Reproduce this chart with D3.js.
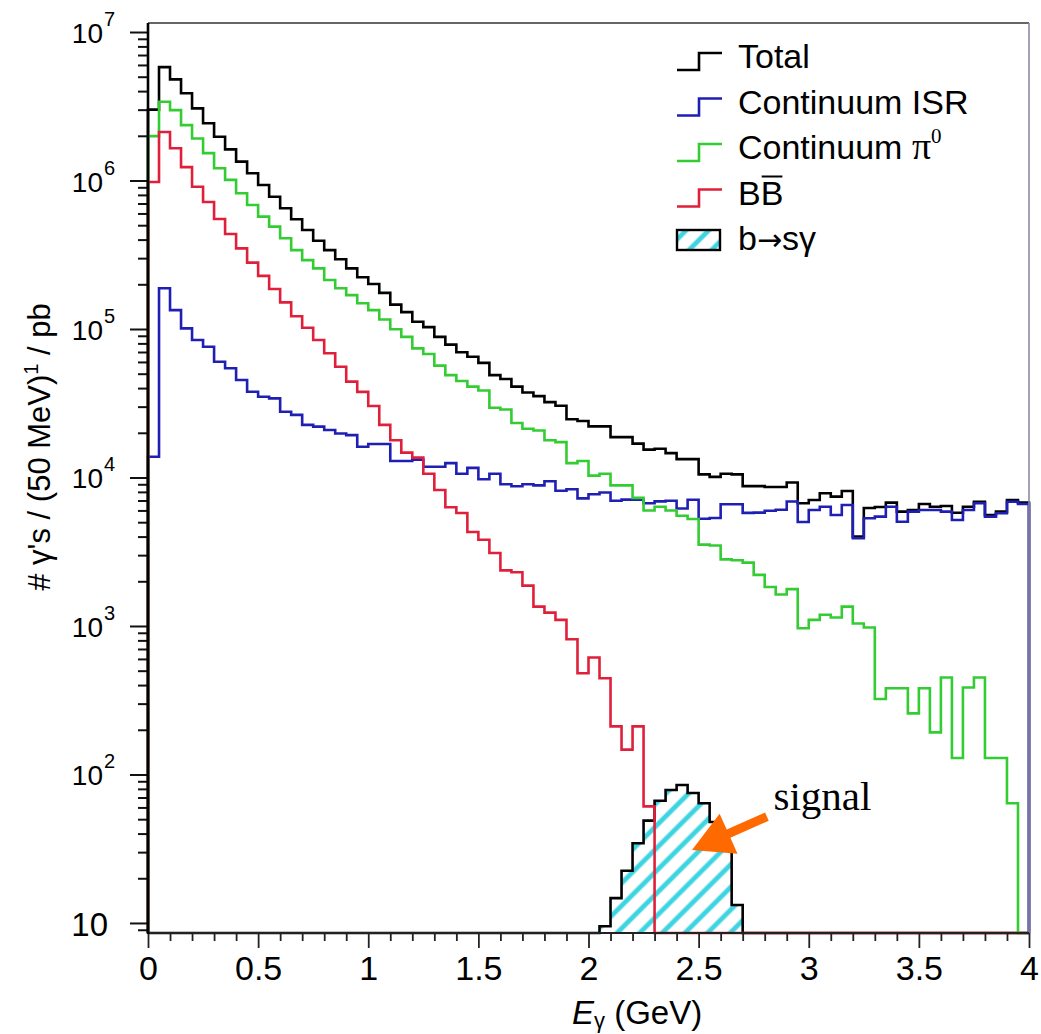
<!DOCTYPE html>
<html>
<head>
<meta charset="utf-8">
<script src="https://cdn.jsdelivr.net/npm/d3@7"></script>
<style>
body { margin: 0; background: #fff; }
text { font-family: "Liberation Sans", Arial, Helvetica, sans-serif; fill: #000; }
</style>
</head>
<body>
<div id="chart-area"></div>
<script>
// binning: 80 bins of 50 MeV between 0 and 4 GeV
var nBins = 80, eMin = 0, eMax = 4;

// bin contents (gammas / 50 MeV / pb)
var total = [3.0e6, 5.8e6, 4.8e6, 3.87e6, 3.06e6, 2.43e6, 1.97e6, 1.62e6, 1.34e6, 1.12e6,
    9.33e5, 7.78e5, 6.5e5, 5.48e5, 4.64e5, 3.93e5, 3.4e5, 2.95e5, 2.56e5, 2.23e5,
    2.01e5, 1.75e5, 1.46e5, 1.3e5, 1.12e5, 1.03e5, 8.85e4, 7.85e4, 6.98e4, 6.5e4,
    5.91e4, 4.89e4, 4.61e4, 4.09e4, 3.74e4, 3.53e4, 3.22e4, 3.04e4, 2.47e4, 2.4e4,
    2.21e4, 2.21e4, 1.87e4, 1.87e4, 1.69e4, 1.54e4, 1.56e4, 1.46e4, 1.33e4, 1.33e4,
    1.05e4, 1.01e4, 1.06e4, 1.05e4, 8.75e3, 8.75e3, 8.62e3, 8.62e3, 9.25e3, 6.71e3,
    7.05e3, 7.83e3, 7.43e3, 8.11e3, 4.0e3, 6.23e3, 6.33e3, 6.77e3, 5.89e3, 6.04e3,
    6.63e3, 6.36e3, 6.43e3, 5.79e3, 6.36e3, 6.87e3, 5.59e3, 5.89e3, 7.05e3, 6.77e3];

var isr = [1.38e4, 1.88e5, 1.34e5, 1.01e5, 8.43e4, 7.6e4, 6.02e4, 5.44e4, 4.54e4, 3.78e4,
    3.5e4, 3.41e4, 2.77e4, 2.64e4, 2.26e4, 2.2e4, 2.09e4, 1.98e4, 1.93e4, 1.61e4,
    1.68e4, 1.68e4, 1.29e4, 1.29e4, 1.32e4, 1.18e4, 1.18e4, 1.25e4, 1.06e4, 1.16e4,
    9.72e3, 1.06e4, 9.01e3, 8.74e3, 9.01e3, 8.85e3, 9.44e3, 8.14e3, 8.34e3, 7.23e3,
    7.71e3, 7.93e3, 6.98e3, 7.1e3, 7.1e3, 6.71e3, 6.9e3, 6.98e3, 6.18e3, 7.08e3,
    5.27e3, 5.34e3, 6.61e3, 6.61e3, 5.78e3, 5.8e3, 5.97e3, 6.07e3, 6.89e3, 5.02e3,
    6.04e3, 6.36e3, 5.59e3, 6.53e3, 3.9e3, 5.31e3, 5.45e3, 6.36e3, 5.04e3, 5.89e3,
    6.04e3, 6.04e3, 5.89e3, 5.17e3, 6.04e3, 6.7e3, 5.45e3, 5.74e3, 6.87e3, 6.63e3];

var pi0 = [1.99e6, 3.39e6, 2.98e6, 2.36e6, 1.92e6, 1.53e6, 1.21e6, 1.01e6, 8.2e5, 6.84e5,
    5.71e5, 4.89e5, 4.08e5, 3.4e5, 2.91e5, 2.56e5, 2.14e5, 1.88e5, 1.69e5, 1.49e5,
    1.34e5, 1.16e5, 9.95e4, 8.85e4, 7.4e4, 6.78e4, 5.67e4, 4.89e4, 4.47e4, 4.09e4,
    3.85e4, 2.95e4, 2.87e4, 2.33e4, 2.13e4, 2.07e4, 1.78e4, 1.73e4, 1.25e4, 1.29e4,
    1.03e4, 1.06e4, 8.85e3, 8.85e3, 7.29e3, 6.0e3, 6.35e3, 6.0e3, 5.53e3, 5.25e3,
    3.53e3, 3.48e3, 2.81e3, 2.77e3, 2.67e3, 2.21e3, 1.83e3, 1.63e3, 1.77e3, 966,
    1.1e3, 1.19e3, 1.14e3, 1.35e3, 1.04e3, 977, 322, 381, 381, 258,
    381, 192, 450, 129, 385, 450, 129, 129, 64, 0];

var bbbar = [9.77e5, 2.12e6, 1.65e6, 1.23e6, 9.08e5, 7.17e5, 5.51e5, 4.36e5, 3.49e5, 2.8e5,
    2.28e5, 1.86e5, 1.51e5, 1.22e5, 1.02e5, 8.43e4, 6.86e4, 5.57e4, 4.42e4, 3.77e4,
    3.03e4, 2.26e4, 1.78e4, 1.47e4, 1.36e4, 1.06e4, 8.24e3, 6.31e3, 5.77e3, 4.29e3,
    3.81e3, 3.1e3, 2.37e3, 2.3e3, 1.87e3, 1.35e3, 1.23e3, 1.1e3, 815, 480,
    614, 445, 211, 147, 211, 61, 0, 0, 0, 0,
    0, 0, 0, 0, 0, 0, 0, 0, 0, 0,
    0, 0, 0, 0, 0, 0, 0, 0, 0, 0,
    0, 0, 0, 0, 0, 0, 0, 0, 0, 0];

var bsgamma = [0, 0, 0, 0, 0, 0, 0, 0, 0, 0,
    0, 0, 0, 0, 0, 0, 0, 0, 0, 0,
    0, 0, 0, 0, 0, 0, 0, 0, 0, 0,
    0, 0, 0, 0, 0, 0, 0, 0, 0, 0,
    0, 9.5, 14.7, 22.5, 34.4, 48.9, 66.6, 78.7, 85, 75,
    64, 47.9, 30.7, 13.2, 0, 0, 0, 0, 0, 0,
    0, 0, 0, 0, 0, 0, 0, 0, 0, 0,
    0, 0, 0, 0, 0, 0, 0, 0, 0, 0];

// axis ticks
var xMajorTicks = [0, 0.5, 1, 1.5, 2, 2.5, 3, 3.5, 4];
var xTickLabels = ["0", "0.5", "1", "1.5", "2", "2.5", "3", "3.5", "4"];
var yDecades = [1, 2, 3, 4, 5, 6, 7];

// annotation (data units)
var signalText = {e: 2.84, v: 58};
var arrowTail = {e: 2.81, v: 52};
var arrowTip = {e: 2.47, v: 31};

var binEdges = d3.range(nBins + 1).map(i => eMin + i * (eMax - eMin) / nBins);

var W = 1041, H = 1034;
var plot = {left: 148, right: 1029, top: 23, bottom: 933};
var yMin = 8.56, yMax = 1.15e7;
var serif = "'Liberation Serif', 'Times New Roman', Times, serif";

var x = d3.scaleLinear().domain([eMin, eMax]).range([plot.left, plot.right]);
var y = d3.scaleLog().domain([yMin, yMax]).range([plot.bottom, plot.top]);

var svg = d3.select("#chart-area").append("svg")
    .attr("width", W)
    .attr("height", H);

var defs = svg.append("defs");
var hatch = defs.append("pattern")
    .attr("id", "hatch")
    .attr("patternUnits", "userSpaceOnUse")
    .attr("width", 16)
    .attr("height", 16)
    .attr("patternTransform", "rotate(45)");
hatch.append("rect").attr("width", 16).attr("height", 16).attr("fill", "#fff");
hatch.append("line")
    .attr("x1", 8).attr("y1", 0).attr("x2", 8).attr("y2", 16)
    .attr("stroke", "#3fd4e2").attr("stroke-width", 4.8);

// step outline, closed to the bottom at both ends
function stepPoints(vals) {
    var pts = [[binEdges[0], yMin]];
    vals.forEach((v, i) => pts.push([binEdges[i], v]));
    pts.push([binEdges[nBins], vals[nBins - 1]]);
    pts.push([binEdges[nBins], yMin]);
    return pts;
}
var stepLine = d3.line()
    .x(d => x(d[0]))
    .y(d => y(Math.max(d[1], yMin)))
    .curve(d3.curveStepAfter);

var g = svg.append("g");

// b -> s gamma signal (hatched)
g.append("path")
    .attr("d", stepLine(stepPoints(bsgamma)))
    .attr("fill", "url(#hatch)")
    .attr("stroke", "#000")
    .attr("stroke-width", 2.6);

var series = [
    {vals: total, color: "#000000"},
    {vals: isr, color: "#1f1fb4"},
    {vals: pi0, color: "#33cc33"},
    {vals: bbbar, color: "#e0203a"}
];
series.forEach(s => {
    g.append("path")
        .attr("d", stepLine(stepPoints(s.vals)))
        .attr("fill", "none")
        .attr("stroke", s.color)
        .attr("stroke-width", 2.6);
});

// frame
svg.append("line")
    .attr("x1", plot.left).attr("x2", plot.right)
    .attr("y1", plot.top).attr("y2", plot.top)
    .attr("stroke", "#333").attr("stroke-width", 1.6);
svg.append("line")
    .attr("x1", plot.right).attr("x2", plot.right)
    .attr("y1", plot.top).attr("y2", plot.bottom)
    .attr("stroke", "#8a8aa8").attr("stroke-width", 1.6);

// x axis
var xMinor = d3.range(0, 41).map(i => i / 10).filter(v => xMajorTicks.indexOf(v) < 0);
var xAxisMinor = svg.append("g")
    .attr("transform", "translate(0," + plot.bottom + ")")
    .call(d3.axisBottom(x).tickValues(xMinor).tickSize(8).tickFormat(""));
var xAxisMajor = svg.append("g")
    .attr("transform", "translate(0," + plot.bottom + ")")
    .call(d3.axisBottom(x).tickValues(xMajorTicks).tickSize(15).tickPadding(8)
        .tickFormat((d, i) => xTickLabels[i]));
[xAxisMinor, xAxisMajor].forEach(a => {
    a.select(".domain").remove();
    a.selectAll("line").attr("stroke", "#222").attr("stroke-width", 1.8);
});
xAxisMajor.selectAll("text")
    .attr("font-size", 34)
    .style("font-family", "'Liberation Sans', Arial, sans-serif")
    .attr("fill", "#000");
svg.append("line")
    .attr("x1", plot.left).attr("x2", plot.right)
    .attr("y1", plot.bottom).attr("y2", plot.bottom)
    .attr("stroke", "#222").attr("stroke-width", 2);

// y axis
var yMinor = [];
yDecades.concat([0]).forEach(p => {
    for (var k = 2; k <= 9; k++) {
        var v = k * Math.pow(10, p);
        if (v >= yMin && v <= yMax) yMinor.push(v);
    }
});
var yMajor = yDecades.map(p => Math.pow(10, p));
var yAxisMinor = svg.append("g")
    .attr("transform", "translate(" + plot.left + ",0)")
    .call(d3.axisLeft(y).tickValues(yMinor).tickSize(10).tickFormat(""));
var yAxisMajor = svg.append("g")
    .attr("transform", "translate(" + plot.left + ",0)")
    .call(d3.axisLeft(y).tickValues(yMajor).tickSize(18).tickFormat(""));
[yAxisMinor, yAxisMajor].forEach(a => {
    a.select(".domain").remove();
    a.selectAll("line").attr("stroke", "#111").attr("stroke-width", 2);
});
svg.append("line")
    .attr("x1", plot.left).attr("x2", plot.left)
    .attr("y1", plot.top).attr("y2", plot.bottom + 1)
    .attr("stroke", "#000").attr("stroke-width", 2.6);

// y tick labels: 10, 10^2 ... 10^7
yDecades.forEach(p => {
    var ty = y(Math.pow(10, p));
    if (p === 1) {
        svg.append("text")
            .attr("x", 108).attr("y", ty + 13)
            .attr("text-anchor", "end")
            .attr("font-size", 33)
            .text("10");
    } else {
        svg.append("text")
            .attr("x", 103).attr("y", ty + 11)
            .attr("text-anchor", "end")
            .attr("font-size", 28)
            .text("10");
        svg.append("text")
            .attr("x", 104).attr("y", ty - 6)
            .attr("font-size", 20)
            .text(p);
    }
});

// axis titles
var xTitle = svg.append("text")
    .attr("x", 572).attr("y", 1024)
    .attr("font-size", 33);
xTitle.append("tspan").attr("font-style", "italic").text("E");
xTitle.append("tspan").attr("font-size", 22).attr("dy", 4).text("γ");
xTitle.append("tspan").attr("dy", -4).text(" (GeV)");

var yTitle = svg.append("text")
    .attr("transform", "translate(50,447) rotate(-90)")
    .attr("text-anchor", "middle")
    .attr("font-size", 31);
yTitle.append("tspan").text("# γ's / (50 MeV)");
yTitle.append("tspan").attr("font-size", 20).attr("dy", -12).text("1");
yTitle.append("tspan").attr("dy", 12).text(" / pb");

// legend
var legendX = 677, legendTextX = 738, legendY0 = 68, legendStep = 45.5;
var legendItems = [
    {key: "total", color: "#000000"},
    {key: "isr", color: "#1f1fb4"},
    {key: "pi0", color: "#33cc33"},
    {key: "bb", color: "#e0203a"},
    {key: "bsg", color: "#000000"}
];
legendItems.forEach((item, i) => {
    var by = legendY0 + i * legendStep;
    if (item.key === "bsg") {
        svg.append("rect")
            .attr("x", legendX).attr("y", by - 20)
            .attr("width", 43).attr("height", 20)
            .attr("fill", "url(#hatch)")
            .attr("stroke", "#000").attr("stroke-width", 2.4);
    } else {
        svg.append("path")
            .attr("d", "M" + legendX + "," + (by + 2) + "H" + (legendX + 22) +
                "V" + (by - 15) + "H" + (legendX + 45))
            .attr("fill", "none")
            .attr("stroke", item.color)
            .attr("stroke-width", 2.6);
    }
    var t = svg.append("text")
        .attr("x", legendTextX).attr("y", by)
        .attr("font-size", 34);
    if (item.key === "total") t.text("Total");
    if (item.key === "isr") t.text("Continuum ISR");
    if (item.key === "pi0") {
        t.append("tspan").text("Continuum ");
        t.append("tspan").style("font-family", serif).attr("font-size", 38).text("π");
        t.append("tspan").attr("font-size", 21).attr("dy", -16)
            .style("font-family", serif).text("0");
    }
    if (item.key === "bb") {
        t.text("BB");
        var node = t.node();
        var x0 = legendTextX + node.getSubStringLength(0, 1);
        var w1 = node.getSubStringLength(1, 1);
        svg.append("line")
            .attr("x1", x0 + 1).attr("x2", x0 + w1 - 1)
            .attr("y1", by - 28).attr("y2", by - 28)
            .attr("stroke", "#000").attr("stroke-width", 2);
    }
    if (item.key === "bsg") {
        t.append("tspan").text("b");
        t.append("tspan").style("font-family", "'DejaVu Sans', sans-serif")
            .attr("font-size", 30).text("→");
        t.append("tspan").text("sγ");
    }
});

// signal annotation with orange arrow
svg.append("text")
    .attr("x", x(signalText.e)).attr("y", y(signalText.v))
    .style("font-family", serif)
    .attr("font-size", 41)
    .text("signal");

var tx = x(arrowTip.e), ty = y(arrowTip.v);
var sx = x(arrowTail.e), sy = y(arrowTail.v);
var len = Math.hypot(sx - tx, sy - ty);
var ux = (sx - tx) / len, uy = (sy - ty) / len;
var nx = -uy, ny = ux;
var headLen = 40, headHalf = 22, shaftHalf = 4.5;
var arrowPts = [
    [tx, ty],
    [tx + ux * headLen + nx * headHalf, ty + uy * headLen + ny * headHalf],
    [tx + ux * headLen + nx * shaftHalf, ty + uy * headLen + ny * shaftHalf],
    [sx + nx * shaftHalf, sy + ny * shaftHalf],
    [sx - nx * shaftHalf, sy - ny * shaftHalf],
    [tx + ux * headLen - nx * shaftHalf, ty + uy * headLen - ny * shaftHalf],
    [tx + ux * headLen - nx * headHalf, ty + uy * headLen - ny * headHalf]
];
svg.append("polygon")
    .attr("points", arrowPts.map(p => p.join(",")).join(" "))
    .attr("fill", "#ff6a00");
</script>
</body>
</html>
